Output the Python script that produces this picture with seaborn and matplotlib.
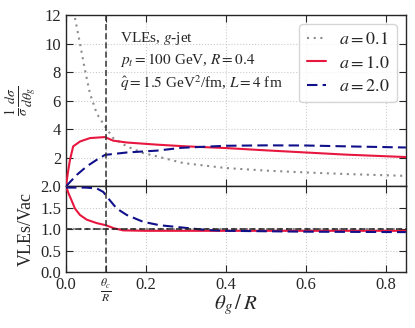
import numpy as np
import pandas as pd
import matplotlib
matplotlib.use("Agg")
import matplotlib.pyplot as plt
import seaborn as sns

# ---- data ----
x_a01 = [0.0225, 0.035, 0.0475, 0.06, 0.077, 0.0975, 0.118, 0.152, 0.193, 0.227, 0.293, 0.4, 0.5, 0.6, 0.7, 0.85]
y_a01 = [11.8, 10.0, 8.15, 6.5, 5.1, 4.2, 3.38, 2.8, 2.33, 2.1, 1.63, 1.28, 1.1, 0.97, 0.86, 0.73]

x_a10 = [0.0, 0.005, 0.01, 0.018, 0.035, 0.06, 0.0975, 0.118, 0.152, 0.227, 0.3, 0.4, 0.5, 0.6, 0.7, 0.85]
y_a10 = [0.0, 1.0, 1.86, 2.8, 3.14, 3.38, 3.45, 3.2, 3.07, 2.92, 2.8, 2.68, 2.52, 2.37, 2.22, 2.05]

x_a20 = [0.0, 0.027, 0.052, 0.077, 0.0975, 0.152, 0.227, 0.29, 0.4, 0.5, 0.6, 0.7, 0.85]
y_a20 = [0.0, 0.8, 1.4, 1.86, 2.2, 2.37, 2.5, 2.7, 2.84, 2.87, 2.86, 2.8, 2.72]

rx_a01 = [0.0, 0.1, 0.2, 0.4, 0.6, 0.85]
ry_a01 = [1.0, 1.0, 1.0, 1.0, 1.0, 1.0]

rx_a10 = [0.0, 0.007, 0.014, 0.0225, 0.035, 0.052, 0.077, 0.1, 0.12, 0.143, 0.2, 0.4, 0.6, 0.85]
ry_a10 = [2.0, 1.82, 1.67, 1.48, 1.33, 1.22, 1.14, 1.09, 1.02, 0.97, 0.96, 0.96, 0.96, 0.96]

rx_a20 = [0.0, 0.05, 0.077, 0.093, 0.11, 0.127, 0.152, 0.193, 0.235, 0.277, 0.35, 0.4, 0.6, 0.85]
ry_a20 = [1.97, 1.97, 1.95, 1.87, 1.67, 1.48, 1.33, 1.17, 1.09, 1.05, 0.98, 0.96, 0.94, 0.93]

labels = ["$a = 0.1$", "$a = 1.0$", "$a = 2.0$"]
theta_c = 0.1

# ---- style ----
sns.set_style("ticks")
plt.rcParams["font.family"] = ["Liberation Serif", "DejaVu Serif"]
plt.rcParams["mathtext.fontset"] = "stix"

colors = ["#8c8c8c", "#e8173f", "#10108a"]
styles = [(0, (1, 2.2)), "-", (0, (5, 2.5))]

fig, (ax1, ax2) = plt.subplots(2, 1, sharex=True, figsize=(4.15, 3.28), dpi=100,
                               gridspec_kw=dict(height_ratios=[2, 1], hspace=0))
fig.subplots_adjust(left=0.159, right=0.978, top=0.954, bottom=0.171)

top = [(x_a01, y_a01), (x_a10, y_a10), (x_a20, y_a20)]
bot = [(rx_a01, ry_a01), (rx_a10, ry_a10), (rx_a20, ry_a20)]
for i, ((xt, yt), (xb, yb)) in enumerate(zip(top, bot)):
    sns.lineplot(x=xt, y=yt, ax=ax1, color=colors[i], linestyle=styles[i], lw=1.5,
                 label=labels[i], zorder=3)
    sns.lineplot(x=xb, y=yb, ax=ax2, color=colors[i], linestyle=styles[i], lw=1.5,
                 zorder=3)

for ax in (ax1, ax2):
    ax.axvline(theta_c, color="#333333", ls=(0, (4, 2)), lw=1.1, zorder=4)
    ax.grid(True, ls=":", color="#cccccc", lw=0.8)
    ax.tick_params(direction="in", top=True, right=True, length=5, labelsize=12)
    ax.set_xlim(0, 0.85)
ax2.axhline(1.0, color="#222222", ls=(0, (4, 2)), lw=1.1, zorder=4)

ax1.set_ylim(0, 12)
ax1.set_yticks([2, 4, 6, 8, 10, 12])
ax2.set_ylim(0, 2)
ax2.set_yticks([0.0, 0.5, 1.0, 1.5, 2.0])
ax2.set_yticklabels(["0.0", "0.5", "1.0", "1.5", "2.0"])
ax2.set_xticks([0.0, 0.1, 0.2, 0.4, 0.6, 0.8])
ax2.set_xticklabels(["0.0", r"$\frac{\theta_c}{R}$", "0.2", "0.4", "0.6", "0.8"])
ax2.set_xlabel(r"$\theta_g\,/\,R$", fontsize=15)
ax2.xaxis.set_label_coords(0.5, -0.23)
ax1.set_ylabel(r"$\frac{1}{\sigma}\frac{d\sigma}{d\theta_g}$", fontsize=14, labelpad=4)
ax2.set_ylabel("VLEs/Vac", fontsize=13, labelpad=4)

ax1.text(0.16, 0.915, "VLEs, $g$-jet\n$p_t = 100$ GeV, $R = 0.4$\n"
         r"$\hat{q} = 1.5$ GeV$^2$/fm, $L = 4$ fm",
         transform=ax1.transAxes, va="top", ha="left", fontsize=11, linespacing=1.3)

leg = ax1.legend(loc="upper right", fontsize=13, handlelength=1.1, frameon=True,
                 borderpad=0.4, labelspacing=0.35, handletextpad=0.7)
leg.get_frame().set_edgecolor("#cccccc")

for sp in list(ax1.spines.values()) + list(ax2.spines.values()):
    sp.set_linewidth(1.0)

fig.savefig("out.png", dpi=100)
